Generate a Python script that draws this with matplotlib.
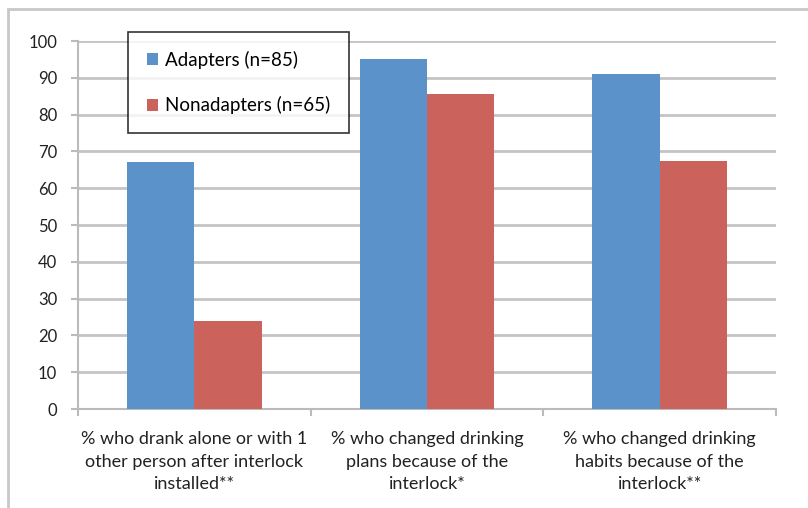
import matplotlib.pyplot as plt
import numpy as np
from matplotlib.patches import Rectangle

categories = ["% who drank alone or with 1\nother person after interlock\ninstalled**",
              "% who changed drinking\nplans because of the\ninterlock*",
              "% who changed drinking\nhabits because of the\ninterlock**"]
adapters = [67, 95, 91]
nonadapters = [24, 85.5, 67.5]

plt.rcParams['font.family'] = ['Lato', 'DejaVu Sans']

fig = plt.figure(figsize=(8.08, 5.08), dpi=100)
# light grey frame around the chart
fig.patches.append(Rectangle((8/808, -0.1), 1.1, (508-9)/508 + 0.1, transform=fig.transFigure,
                             fill=False, edgecolor="#c8c8c8", linewidth=2))
ax = fig.add_axes([78/808, 99/508, 698/808, 368/508])

x = np.arange(len(categories))
w = 0.29
ax.bar(x - w/2, adapters, w, color="#5b92c9", label="Adapters (n=85)", zorder=3)
ax.bar(x + w/2, nonadapters, w, color="#cb625b", label="Nonadapters (n=65)", zorder=3)

ax.set_xlim(-0.5, 2.5)
ax.set_ylim(0, 100)
ax.set_yticks(range(0, 101, 10))
ax.yaxis.grid(True, color="#c4c4c4", linewidth=2, zorder=0)
ax.set_xticks(x)
ax.set_xticklabels(categories, fontsize=13, color="#222222", linespacing=1.5)
ax.tick_params(axis='x', length=0, pad=16)
ax.set_xticks([-0.5, 0.5, 1.5, 2.5], minor=True)
ax.tick_params(axis='x', which='minor', length=5, color="#bbbbbb", width=1.5)
ax.tick_params(axis='y', length=5, color="#bbbbbb", width=1.5, pad=10,
               labelsize=12, labelcolor="#222222")
for s in ["top", "right"]:
    ax.spines[s].set_visible(False)
for s in ["left", "bottom"]:
    ax.spines[s].set_color("#bbbbbb")
    ax.spines[s].set_linewidth(1.5)

leg = ax.legend(loc="upper left", bbox_to_anchor=(50/698, 1.024), fontsize=13.5,
                frameon=True, fancybox=False, handlelength=0.6, handleheight=0.6,
                handletextpad=0.35, labelspacing=1.45, borderpad=1.0, borderaxespad=0)
leg.get_frame().set_edgecolor("black")
leg.get_frame().set_linewidth(1.2)

fig.savefig("out.png", dpi=100)
